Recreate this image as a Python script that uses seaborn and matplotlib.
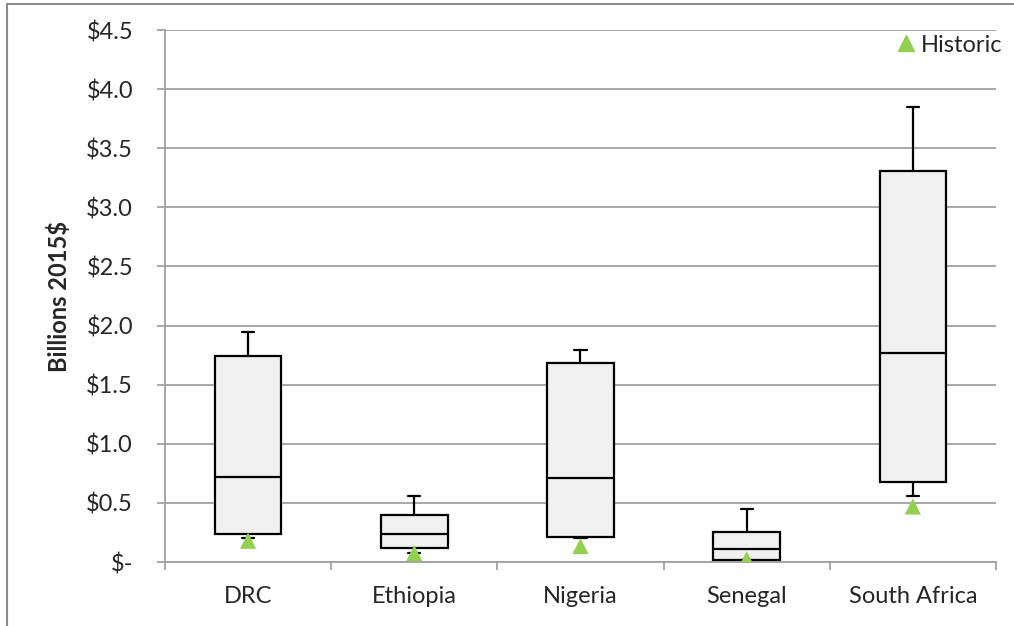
import pandas as pd
import matplotlib
matplotlib.use("Agg")
import matplotlib.pyplot as plt
from matplotlib.patches import Rectangle
from matplotlib.lines import Line2D
import seaborn as sns

OUT_PATH = "out.png"

COUNTRIES = ["DRC", "Ethiopia", "Nigeria", "Senegal", "South Africa"]
LOW = [0.20, 0.08, 0.20, 0.02, 0.56]
Q1 = [0.24, 0.12, 0.21, 0.02, 0.68]
MEDIAN = [0.72, 0.24, 0.71, 0.107, 1.77]
Q3 = [1.74, 0.395, 1.68, 0.25, 3.31]
HIGH = [1.95, 0.56, 1.79, 0.45, 3.85]
HISTORIC = [0.18, 0.076, 0.135, 0.025, 0.47]

Y_TICKS = [0.0, 0.5, 1.0, 1.5, 2.0, 2.5, 3.0, 3.5, 4.0, 4.5]
Y_LABELS = ["$-", "$0.5", "$1.0", "$1.5", "$2.0", "$2.5", "$3.0", "$3.5", "$4.0", "$4.5"]

GREEN = "#92d050"
GRID = "#a0a0a0"
FS = 17


def build_frame():
    # five points per country -> quartiles land exactly on q1/median/q3
    rows = []
    for i, c in enumerate(COUNTRIES):
        for v in (LOW[i], Q1[i], MEDIAN[i], Q3[i], HIGH[i]):
            rows.append({"Country": c, "Value": v})
    return pd.DataFrame(rows)


def main():
    sns.set_theme(style="white")
    plt.rcParams["font.family"] = ["Lato", "DejaVu Sans"]

    df = build_frame()
    hist = pd.DataFrame({"Country": COUNTRIES, "Historic": HISTORIC})

    fig = plt.figure(figsize=(10.14, 6.26), dpi=100)
    ax = fig.add_axes([0.1627, 0.1022, 0.8195, 0.8498])

    sns.boxplot(data=df, x="Country", y="Value", order=COUNTRIES, whis=(0, 100),
                width=0.4, color="#f0f0f0", linecolor="black", linewidth=1.6,
                showfliers=False, ax=ax)

    # shorten whisker caps (Excel style)
    for line in ax.lines:
        xs = line.get_xdata()
        ys = line.get_ydata()
        if len(xs) == 2 and ys[0] == ys[1]:
            span = abs(xs[1] - xs[0])
            if 0 < span < 0.39:
                mid = (xs[0] + xs[1]) / 2
                line.set_xdata([mid - 0.037, mid + 0.037])

    sns.scatterplot(data=hist, x="Country", y="Historic", marker="^", s=135,
                    color=GREEN, edgecolor="none", ax=ax, zorder=5, legend=False)

    ax.set_xlim(-0.5, 4.5)
    ax.set_ylim(0, 4.5)
    ax.set_yticks(Y_TICKS)
    ax.set_yticklabels(Y_LABELS)
    ax.set_xticks(range(len(COUNTRIES)))
    ax.set_xticklabels(COUNTRIES)
    ax.set_xticks([i - 0.5 for i in range(len(COUNTRIES) + 1)], minor=True)

    ax.yaxis.grid(True, color=GRID, linewidth=1.3)
    ax.set_axisbelow(True)
    for side in ("top", "right"):
        ax.spines[side].set_visible(False)
    for side in ("left", "bottom"):
        ax.spines[side].set_color(GRID)
        ax.spines[side].set_linewidth(1.3)

    ax.tick_params(axis="y", which="major", length=6, width=1.3, color=GRID,
                   labelsize=FS, pad=17, direction="out", left=True)
    ax.tick_params(axis="x", which="major", length=0, labelsize=FS, pad=17)
    ax.tick_params(axis="x", which="minor", length=6, width=1.3, color=GRID,
                   direction="out", bottom=True)

    ax.set_xlabel("")
    ax.set_ylabel("Billions 2015$", fontsize=FS, fontweight="bold", labelpad=11)

    handle = Line2D([], [], marker="^", linestyle="none", color=GREEN,
                    markersize=11)
    fig.legend([handle], ["Historic"], loc="center right",
               bbox_to_anchor=(1002 / 1014, 1 - 45 / 626), frameon=False, fontsize=FS,
               handletextpad=0.1, handlelength=1.0, borderaxespad=0, borderpad=0)

    # chart-area border, only left and top edges fall inside the picture
    fig.patches.append(Rectangle((7 / 1014, -0.1), 1.2, 1 - 4 / 626 + 0.1,
                                 transform=fig.transFigure, fill=False,
                                 edgecolor="#8c8c8c", linewidth=1.5))

    fig.savefig(OUT_PATH, dpi=100)
    plt.close(fig)


if __name__ == "__main__":
    main()
